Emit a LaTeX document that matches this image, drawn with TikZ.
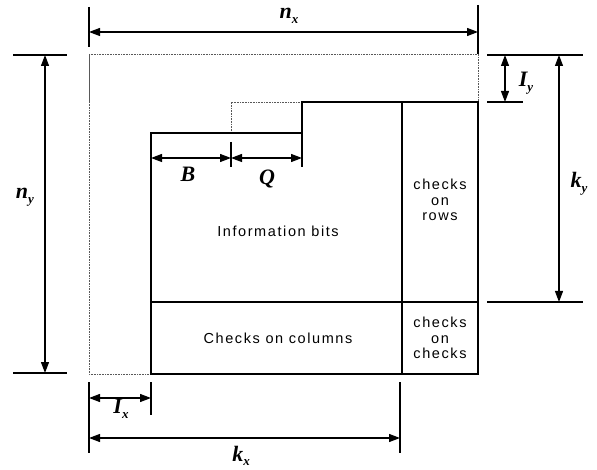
\documentclass[tikz,border=0pt]{standalone}
\usepackage{fontspec}
\setmainfont{Liberation Sans}
\newfontfamily\lblfont{Liberation Serif}
\newfontfamily\txtfont[LetterSpace=11]{Liberation Sans}
\usetikzlibrary{arrows.meta}
\newcommand{\dimlbl}[2]{{\lblfont\bfseries\itshape\fontsize{22}{24}\selectfont #1\raisebox{-4.5pt}{\fontsize{13}{14}\selectfont #2}}}
\begin{document}
\begin{tikzpicture}[x=1pt,y=-1pt,
  solid line/.style={line width=1.2pt},
  dotline/.style={line width=0.9pt, black!65, dash pattern=on 1pt off 0.6pt},
  ext/.style={line width=1.2pt},
  dimarrow/.style={line width=1.2pt, {Triangle[length=11pt,width=8pt]}-{Triangle[length=11pt,width=8pt]}},
  txt/.style={font=\txtfont\fontsize{14.5}{15.5}\selectfont, align=center, inner sep=0pt},
  lbl/.style={inner sep=0pt}]
\useasboundingbox (0,0) rectangle (597,470);
% outer dotted rectangle
\draw[dotline] (89,102) -- (89,54) -- (478,54) -- (478,102);
\draw[dotline] (89,54) -- (89,374) -- (151,374);
% dotted box
\draw[dotline] (231,133) -- (231,102) -- (302,102);
% inner solid outline
\draw[solid line] (151,374) -- (151,133) -- (302,133) -- (302,102) -- (478,102) -- (478,374) -- cycle;
\draw[solid line] (402,102) -- (402,374);
\draw[solid line] (151,302) -- (478,302);
% texts
\node[txt] (info) at (278,231) {Information bits};
\node[txt] (rows) at (440,200) {checks\\on\\rows};
\node[txt] (cols) at (278,338) {Checks on columns};
\node[txt] (cc) at (440,338) {checks\\on\\checks};
% n_x
\draw[ext] (89,7) -- (89,47);
\draw[ext] (478,5) -- (478,54);
\coordinate (nxa) at (89,32);
\coordinate (nxb) at (478,32);
\draw[dimarrow] (nxa) -- (nxb);
\node[lbl] (nx) at (289,16) {\dimlbl{n}{x}};
% n_y
\draw[ext] (13,55) -- (67,55);
\draw[ext] (13,373) -- (67,373);
\coordinate (nya) at (45,55);
\coordinate (nyb) at (45,373);
\draw[dimarrow] (nya) -- (nyb);
\node[lbl] (ny) at (25,197) {\dimlbl{n}{y}};
% I_y and k_y
\draw[ext] (487,55) -- (583,55);
\draw[ext] (487,102) -- (523,102);
\draw[ext] (487,302) -- (583,302);
\coordinate (lya) at (505,55);
\coordinate (lyb) at (505,102);
\draw[dimarrow] (lya) -- (lyb);
\node[lbl] (ly) at (526,83) {\dimlbl{I}{y}};
\coordinate (kya) at (559,55);
\coordinate (kyb) at (559,302);
\draw[dimarrow] (kya) -- (kyb);
\node[lbl] (ky) at (579,184) {\dimlbl{k}{y}};
% B and Q
\draw[ext] (231,142) -- (231,167);
\draw[ext] (302,133) -- (302,167);
\coordinate (ba) at (151,158);
\coordinate (bb) at (231,158);
\coordinate (qb) at (302,158);
\draw[dimarrow] (ba) -- (bb);
\draw[dimarrow] (bb) -- (qb);
\node[lbl] (B) at (188,177) {\dimlbl{B}{}};
\node[lbl] (Q) at (267,179) {\dimlbl{Q}{}};
% I_x and k_x
\draw[ext] (89,382) -- (89,453);
\draw[ext] (151,382) -- (151,415);
\draw[ext] (400,382) -- (400,453);
\coordinate (ixa) at (89,398);
\coordinate (ixb) at (151,398);
\draw[dimarrow] (ixa) -- (ixb);
\node[lbl] (ix) at (121,409) {\dimlbl{I}{x}};
\coordinate (kxa) at (89,438);
\coordinate (kxb) at (400,438);
\draw[dimarrow] (kxa) -- (kxb);
\node[lbl] (kx) at (241,456) {\dimlbl{k}{x}};
\end{tikzpicture}
\end{document}
